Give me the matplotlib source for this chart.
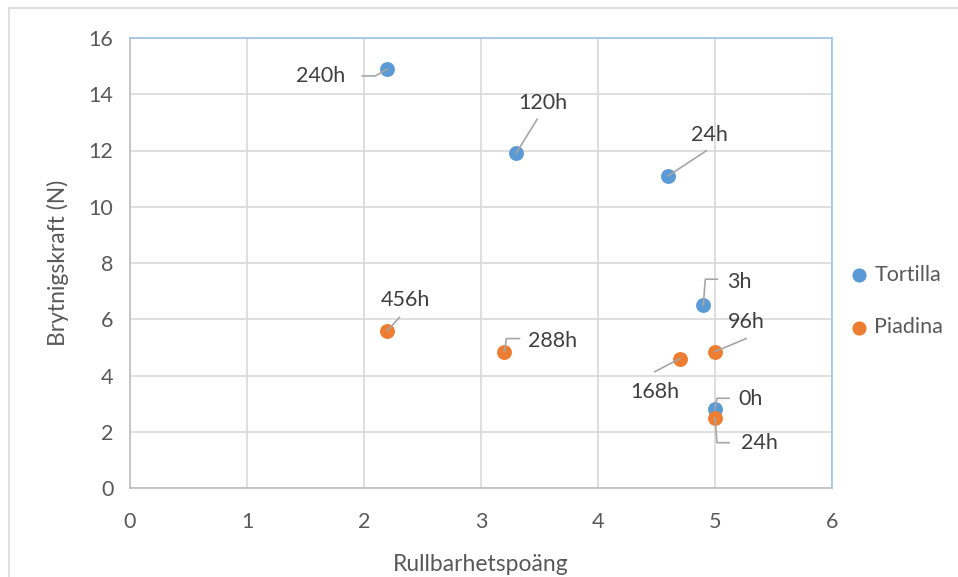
import matplotlib.pyplot as plt
from matplotlib.patches import Rectangle
from matplotlib.transforms import ScaledTranslation

# ---------------------------------------------------------------------------
# DATA
# ---------------------------------------------------------------------------
tortilla_x = [5.0, 4.9, 4.6, 3.3, 2.2]
tortilla_y = [2.8, 6.5, 11.1, 11.9, 14.9]
tortilla_labels = ["0h", "3h", "24h", "120h", "240h"]

piadina_x = [5.0, 5.0, 4.7, 3.2, 2.2]
piadina_y = [2.5, 4.85, 4.6, 4.85, 5.6]
piadina_labels = ["24h", "96h", "168h", "288h", "456h"]

# label placement: text centre offset (px) and leader polyline (px), relative to the point
tortilla_place = [
    ((36, 10), [(0, 0), (2, 11), (14, 11)]),
    ((36, 23), [(0, 0), (2, 26), (14, 26)]),
    ((41, 41), [(0, 0), (38, 25)]),
    ((27, 50), [(0, 0), (21, 34)]),
    ((-67, -7), [(0, 0), (-12, -7), (-25, -7)]),
]
piadina_place = [
    ((44, -25), [(0, 0), (2, -25), (14, -25)]),
    ((31, 30), [(0, 0), (31, 13)]),
    ((-25, -33), [(0, 0), (-25, -13)]),
    ((48, 11), [(0, 0), (2, 13), (15, 13)]),
    ((18, 30), [(0, 0), (12, 13)]),
]

BLUE = "#5B9BD5"
ORANGE = "#ED7D31"
TEXT = "#595959"
LEADER = "#A6A6A6"

plt.rcParams["font.family"] = ["Lato", "DejaVu Sans"]

W, H = 958, 577
fig = plt.figure(figsize=(W / 100, H / 100), dpi=100)
fig.patches.append(Rectangle((9 / W, -0.1), 1.2, 1 - 8 / H + 0.1, transform=fig.transFigure,
                             fill=False, edgecolor="#D9D9D9", linewidth=1.2))

ax = fig.add_axes([130 / W, 1 - 488 / H, (832 - 130) / W, (488 - 38) / H])
ax.set_xlim(0, 6)
ax.set_ylim(0, 16)
ax.set_xticks(range(0, 7))
ax.set_yticks(range(0, 17, 2))
ax.grid(True, color="#D9D9D9", linewidth=1.2)
ax.set_axisbelow(True)
ax.tick_params(length=0, labelsize=15.5, colors=TEXT)
ax.tick_params(axis="x", pad=17)
ax.tick_params(axis="y", pad=12)

for side in ["left", "bottom"]:
    ax.spines[side].set_color("#BFBFBF")
    ax.spines[side].set_linewidth(1.2)
for side in ["top", "right"]:
    ax.spines[side].set_color("#9DC3E6")
    ax.spines[side].set_linewidth(1.2)

ax.set_xlabel("Rullbarhetspoäng", fontsize=16.5, color=TEXT, labelpad=16)
ax.set_ylabel("Brytnigskraft (N)", fontsize=16.5, color=TEXT, labelpad=14)

ax.scatter(tortilla_x, tortilla_y, s=115, color=BLUE, label="Tortilla", zorder=3, linewidths=0)
ax.scatter(piadina_x, piadina_y, s=115, color=ORANGE, label="Piadina", zorder=3, linewidths=0)


def add_labels(xs, ys, labels, place):
    for x, y, lab, (off, leader) in zip(xs, ys, labels, place):
        ax.annotate(lab, (x, y), xytext=off, textcoords="offset pixels",
                    ha="center", va="center", fontsize=15.5, color="#404040", zorder=5)
        lx = [p[0] for p in leader]
        ly = [p[1] for p in leader]
        ax.plot(lx, ly, color=LEADER, linewidth=1.2, zorder=4,
                transform=ScaledTranslation(x, y, ax.transData), clip_on=False)


add_labels(tortilla_x, tortilla_y, tortilla_labels, tortilla_place)
add_labels(piadina_x, piadina_y, piadina_labels, piadina_place)

ax.legend(loc="center left", bbox_to_anchor=(0.99, 0.415), frameon=False, fontsize=15.5,
          labelcolor=TEXT, handletextpad=0.0, labelspacing=1.5, markerscale=0.95,
          handlelength=1.4)

fig.savefig("out.png", dpi=100)
